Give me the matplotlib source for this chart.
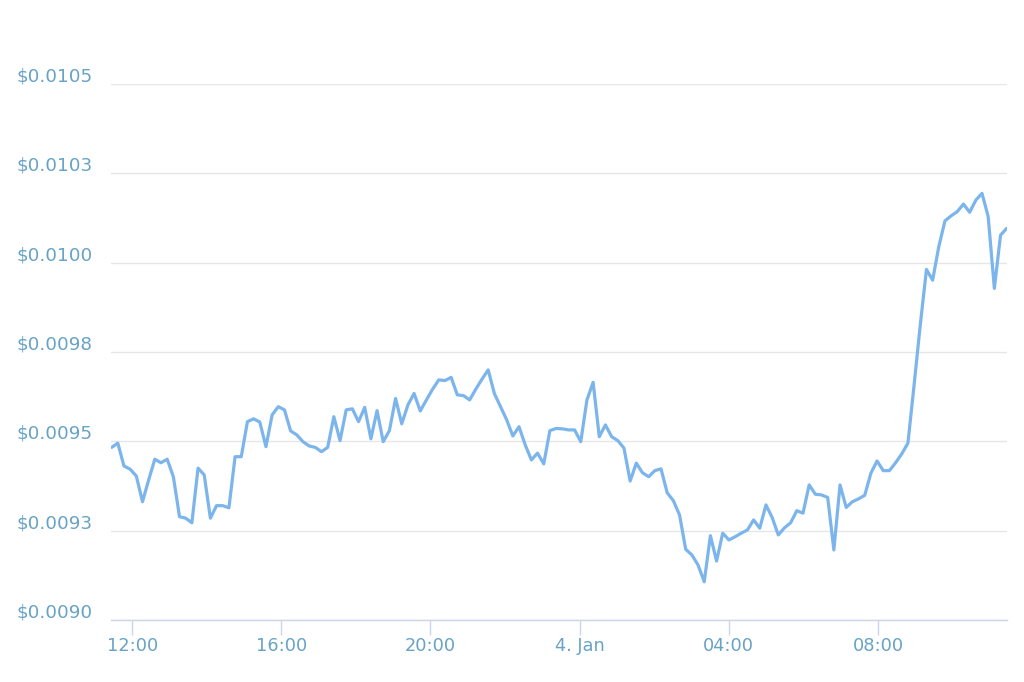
import matplotlib
matplotlib.use("Agg")
import matplotlib.pyplot as plt
import matplotlib.transforms as mtransforms
import pandas as pd

# ---- data (price in USD, ~10 min samples) ----
prices = [
    0.009483, 0.009495, 0.009431, 0.009422, 0.009403, 0.009331, 0.009392, 0.009450,
    0.009440, 0.009450, 0.009401, 0.009289, 0.009285, 0.009272, 0.009425, 0.009406,
    0.009285, 0.009320, 0.009320, 0.009314, 0.009457, 0.009457, 0.009555, 0.009563,
    0.009554, 0.009485, 0.009574, 0.009597, 0.009588, 0.009529, 0.009518, 0.009499,
    0.009487, 0.009483, 0.009471, 0.009483, 0.009569, 0.009502, 0.009588, 0.009591,
    0.009555, 0.009595, 0.009507, 0.009586, 0.009499, 0.009530, 0.009620, 0.009549,
    0.009602, 0.009634, 0.009585, 0.009616, 0.009646, 0.009672, 0.009670, 0.009679,
    0.009630, 0.009628, 0.009616, 0.009646, 0.009674, 0.009700, 0.009634, 0.009597,
    0.009560, 0.009515, 0.009541, 0.009490, 0.009448, 0.009467, 0.009437, 0.009530,
    0.009536, 0.009535, 0.009532, 0.009532, 0.009499, 0.009616, 0.009665, 0.009513,
    0.009546, 0.009513, 0.009502, 0.009481, 0.009389, 0.009439, 0.009412, 0.009401,
    0.009418, 0.009423, 0.009356, 0.009334, 0.009294, 0.009198, 0.009182, 0.009154,
    0.009107, 0.009236, 0.009165, 0.009243, 0.009224, 0.009233, 0.009243, 0.009252,
    0.009280, 0.009257, 0.009322, 0.009287, 0.009238, 0.009258, 0.009272, 0.009306,
    0.009299, 0.009378, 0.009352, 0.009350, 0.009343, 0.009196, 0.009378, 0.009315,
    0.009331, 0.009339, 0.009349, 0.009411, 0.009445, 0.009418, 0.009418, 0.009440,
    0.009465, 0.009495, 0.009658, 0.009826, 0.009981, 0.009951, 0.010045, 0.010117,
    0.010131, 0.010143, 0.010164, 0.010141, 0.010175, 0.010194, 0.010129, 0.009928,
    0.010077, 0.010096,
]
start_time = "2021-01-03 11:27"
end_time = "2021-01-04 11:27"
view_start = "2021-01-03 11:26"

y_ticks = [0.0090, 0.00925, 0.0095, 0.00975, 0.0100, 0.01025, 0.0105]
y_labels = ["$0.0090", "$0.0093", "$0.0095", "$0.0098", "$0.0100", "$0.0103", "$0.0105"]
x_ticks = ["2021-01-03 12:00", "2021-01-03 16:00", "2021-01-03 20:00",
           "2021-01-04 00:00", "2021-01-04 04:00", "2021-01-04 08:00"]
x_labels = ["12:00", "16:00", "20:00", "4. Jan", "04:00", "08:00"]

# ---- style ----
line_color = "#7cb5ec"
label_color = "#68a3c6"
grid_color = "#e6e6e6"
axis_color = "#ccd6eb"

times = pd.date_range(start_time, end_time, periods=len(prices))

fig = plt.figure(figsize=(10.24, 6.82), dpi=100)
ax = fig.add_axes([111 / 1024, 62 / 682, 895.7 / 1024, 536 / 682])

ax.plot(times, prices, color=line_color, lw=2.3,
        solid_joinstyle="round", solid_capstyle="round", zorder=3)

ax.set_xlim(pd.Timestamp(view_start), pd.Timestamp(end_time))
ax.set_ylim(y_ticks[0], y_ticks[-1])

# grid
ax.set_yticks(y_ticks)
ax.yaxis.grid(True, color=grid_color, lw=1.0)
ax.xaxis.grid(False)
ax.set_axisbelow(True)
ax.tick_params(axis="y", length=0, labelleft=False)

# y labels sit a little above their grid lines
trans = mtransforms.blended_transform_factory(ax.transAxes, ax.transData) + \
    mtransforms.ScaledTranslation(0, 0.025, fig.dpi_scale_trans)
for v, lab in zip(y_ticks, y_labels):
    ax.text(-18 / 895.7, v, lab, transform=trans, ha="right", va="baseline",
            fontsize=13.2, color=label_color)

# x axis
ax.set_xticks([pd.Timestamp(t) for t in x_ticks])
ax.set_xticklabels(x_labels)
ax.tick_params(axis="x", length=11, width=1, color=axis_color,
               labelcolor=label_color, labelsize=12.8, pad=1.0)

for s in ["top", "right", "left"]:
    ax.spines[s].set_visible(False)
ax.spines["bottom"].set_color(axis_color)
ax.spines["bottom"].set_linewidth(1.0)

fig.savefig("out.png", dpi=100, facecolor="white")
